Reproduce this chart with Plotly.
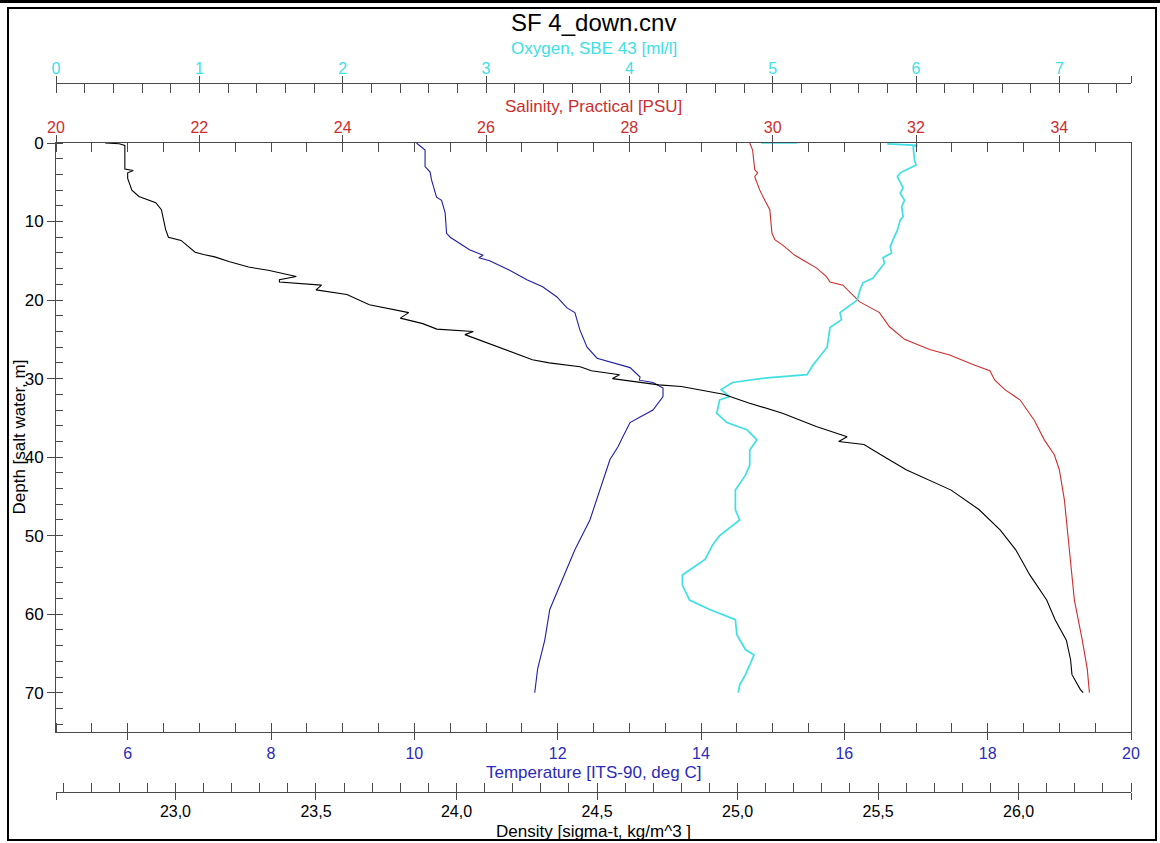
import plotly.graph_objects as go

# ---------------- data ----------------
depth_dens = [0.0, 0.1, 0.3, 3.3, 3.5, 3.8, 4.5, 6.0, 6.8, 7.3, 7.6, 8.5, 11.0, 12.0, 12.4, 13.9,
              14.2, 14.5, 15.1, 15.8, 16.2, 17.0, 17.4, 17.7, 18.1, 18.7, 19.3, 20.6, 21.6, 22.3,
              23.0, 23.7, 24.0, 24.4, 26.0, 27.6, 28.0, 28.5, 29.0, 29.5, 30.0, 30.8, 31.0, 32.0,
              33.1, 34.4, 36.1, 37.4, 38.0, 38.4, 39.7, 41.6, 44.2, 46.7, 49.3, 51.8, 55.0, 58.2,
              60.7, 63.3, 65.8, 67.7, 69.6, 70.0]
density = [22.75, 22.80, 22.82, 22.82, 22.85, 22.83, 22.83, 22.845, 22.87, 22.905, 22.93, 22.95,
           22.965, 22.975, 23.02, 23.07, 23.10, 23.14, 23.19, 23.26, 23.33, 23.43, 23.37, 23.37,
           23.52, 23.50, 23.61, 23.69, 23.83, 23.80, 23.88, 23.93, 24.06, 24.03, 24.15, 24.27,
           24.33, 24.44, 24.48, 24.58, 24.555, 24.72, 24.80, 24.95, 25.04, 25.16, 25.28, 25.39,
           25.36, 25.45, 25.51, 25.60, 25.76, 25.86, 25.935, 25.99, 26.04, 26.10, 26.13, 26.17,
           26.185, 26.19, 26.22, 26.23]

depth_temp = [0.0, 0.4, 0.9, 3.0, 3.7, 4.7, 6.9, 7.3, 8.9, 11.5, 12.0, 13.6, 14.3, 14.6, 15.0,
              16.2, 17.4, 18.3, 19.6, 21.0, 21.6, 23.8, 26.0, 27.4, 28.0, 28.6, 29.8, 30.2, 30.5,
              31.2, 32.3, 34.0, 34.9, 35.6, 37.4, 38.7, 40.3, 44.2, 48.0, 51.8, 55.6, 59.4, 63.3,
              67.0, 70.0]
temperature = [10.03, 10.08, 10.15, 10.15, 10.22, 10.24, 10.31, 10.38, 10.43, 10.45, 10.50, 10.77,
               10.96, 10.90, 11.05, 11.33, 11.57, 11.79, 11.99, 12.13, 12.24, 12.31, 12.41, 12.55,
               12.77, 13.01, 13.15, 13.14, 13.33, 13.47, 13.47, 13.33, 13.15, 13.01, 12.91, 12.84,
               12.73, 12.59, 12.45, 12.24, 12.07, 11.89, 11.82, 11.72, 11.68]

depth_sal = [0.0, 0.9, 3.4, 3.8, 4.3, 6.0, 7.3, 8.5, 11.5, 12.3, 13.0, 14.3, 14.9, 15.9, 17.0,
             17.7, 18.1, 19.3, 20.2, 20.9, 21.6, 23.4, 25.0, 26.3, 27.0, 28.3, 29.0, 30.2, 31.4,
             32.7, 35.3, 37.8, 39.7, 41.6, 45.4, 51.8, 58.2, 63.3, 67.0, 70.0]
salinity = [29.68, 29.72, 29.75, 29.79, 29.75, 29.82, 29.89, 29.96, 29.99, 30.03, 30.14, 30.31,
            30.42, 30.61, 30.75, 30.80, 30.98, 31.12, 31.21, 31.35, 31.49, 31.63, 31.84, 32.19,
            32.47, 32.82, 33.03, 33.10, 33.24, 33.45, 33.65, 33.79, 33.93, 34.00, 34.07, 34.14,
            34.21, 34.32, 34.39, 34.42]

depth_oxy = [0.0, 0.0, None, 0.1, 0.3, 0.5, 2.2, 2.8, 3.8, 4.3, 5.1, 5.7, 6.4, 7.3, 8.1, 9.4, 9.8,
             11.1, 12.3, 13.2, 14.0, 14.6, 15.3, 16.4, 17.2, 17.8, 18.7, 20.0, 20.9, 21.6, 22.5,
             23.5, 26.0, 27.2, 28.3, 29.5, 29.9, 30.5, 31.4, 32.3, 32.7, 34.4, 35.6, 36.5, 37.8,
             39.1, 41.0, 42.3, 44.2, 46.7, 48.0, 50.0, 51.2, 53.0, 55.0, 56.3, 58.2, 59.4, 60.7,
             62.6, 64.5, 65.2, 66.4, 67.7, 69.0, 70.0]
oxygen = [4.92, 5.17, None, 5.80, 6.01, 5.98, 5.99, 6.00, 5.89, 5.87, 5.89, 5.91, 5.89, 5.92, 5.90,
          5.91, 5.89, 5.87, 5.84, 5.82, 5.83, 5.77, 5.78, 5.73, 5.70, 5.63, 5.61, 5.59, 5.52, 5.47,
          5.48, 5.40, 5.38, 5.33, 5.28, 5.24, 4.96, 4.72, 4.64, 4.70, 4.63, 4.61, 4.68, 4.82, 4.89,
          4.84, 4.84, 4.81, 4.74, 4.74, 4.77, 4.63, 4.58, 4.53, 4.37, 4.37, 4.42, 4.56, 4.74, 4.75,
          4.81, 4.87, 4.84, 4.81, 4.77, 4.76]

temp_range = [5, 20]
sal_range = [20, 35]
oxy_range = [0, 7.5]
dens_range = [22.575, 26.4]
depth_range = [75, 0]

temp_ticks = [6, 8, 10, 12, 14, 16, 18, 20]
temp_labels = ["6", "8", "10", "12", "14", "16", "18", "20"]
sal_ticks = [20, 22, 24, 26, 28, 30, 32, 34]
sal_labels = ["20", "22", "24", "26", "28", "30", "32", "34"]
oxy_ticks = [0, 1, 2, 3, 4, 5, 6, 7, 7.5]
oxy_labels = ["0", "1", "2", "3", "4", "5", "6", "7", ""]
dens_ticks = [22.575, 23.0, 23.5, 24.0, 24.5, 25.0, 25.5, 26.0, 26.4]
dens_labels = ["", "23,0", "23,5", "24,0", "24,5", "25,0", "25,5", "26,0", ""]
depth_ticks = [0, 10, 20, 30, 40, 50, 60, 70]
depth_labels = ["0", "10", "20", "30", "40", "50", "60", "70"]

title_text = "SF 4_down.cnv"
oxy_title = "Oxygen, SBE 43 [ml/l]"
sal_title = "Salinity, Practical [PSU]"
temp_title = "Temperature [ITS-90, deg C]"
dens_title = "Density [sigma-t, kg/m^3 ]"
depth_title = "Depth [salt water, m]"

# ---------------- styling / geometry ----------------
C_OXY = "#3ee0e6"
C_SAL = "#cc2e2e"
C_TEMP_LINE = "#1f1fa3"
C_TEMP_TXT = "#2b2bb8"
C_AX = "#4a4a4a"
FONT = "Liberation Sans, Arial, sans-serif"

W, H = 1160, 843
ML, MR, MT, MB = 56, 29, 83, 51
PW = W - ML - MR
PH = H - MT - MB
PLOT_TOP, PLOT_BOT = 143, 732


def py(ypx):
    return (H - MB - ypx) / PH


def px(xpx):
    return (xpx - ML) / PW


ydom = [py(PLOT_BOT), py(PLOT_TOP)]

fig = go.Figure()
fig.add_trace(go.Scatter(x=density, y=depth_dens, mode="lines", xaxis="x4", yaxis="y",
                         line=dict(color="#000000", width=1.1), showlegend=False))
fig.add_trace(go.Scatter(x=temperature, y=depth_temp, mode="lines", xaxis="x", yaxis="y",
                         line=dict(color=C_TEMP_LINE, width=1.1), showlegend=False))
fig.add_trace(go.Scatter(x=salinity, y=depth_sal, mode="lines", xaxis="x2", yaxis="y",
                         line=dict(color=C_SAL, width=1.1), showlegend=False))
fig.add_trace(go.Scatter(x=oxygen, y=depth_oxy, mode="lines", xaxis="x3", yaxis="y",
                         line=dict(color=C_OXY, width=1.7), showlegend=False, connectgaps=False))
# empty traces to register the duplicate (inner major tick) axes
for xa, ya in [("x5", "y"), ("x6", "y"), ("x7", "y"), ("x8", "y"), ("x", "y2")]:
    fig.add_trace(go.Scatter(x=[], y=[], xaxis=xa, yaxis=ya, showlegend=False, hoverinfo="skip"))


def xax(rng, tv, tt, color, side, minor_dtick, minor_tick0, anchor="y", position=None,
        overlay=None, fsize=16, standoff=0):
    d = dict(range=rng, tickmode="array", tickvals=tv, ticktext=tt, side=side,
             ticks="outside", ticklen=7, tickwidth=1, tickcolor=C_AX,
             showline=True, linecolor=C_AX, linewidth=1, showgrid=False, zeroline=False,
             tickfont=dict(family=FONT, size=fsize, color=color), ticklabelstandoff=standoff,
             minor=dict(dtick=minor_dtick, tick0=minor_tick0, ticks="inside", ticklen=9,
                        tickwidth=1, tickcolor=C_AX, showgrid=False),
             anchor=anchor, fixedrange=True)
    if position is not None:
        d["position"] = position
    if overlay:
        d["overlaying"] = overlay
    return d


def xdup(rng, tv, side, anchor="y", position=None):
    d = dict(range=rng, tickmode="array", tickvals=tv, side=side, ticks="inside", ticklen=9,
             tickwidth=1, tickcolor=C_AX, showticklabels=False, showline=False,
             showgrid=False, zeroline=False, anchor=anchor, overlaying="x", fixedrange=True)
    if position is not None:
        d["position"] = position
    return d


fig.update_layout(
    width=W, height=H,
    margin=dict(l=ML, r=MR, t=MT, b=MB, pad=0),
    paper_bgcolor="white", plot_bgcolor="white",
    font=dict(family=FONT, color="#000000"),
    showlegend=False,
    xaxis=xax(temp_range, temp_ticks, temp_labels, C_TEMP_TXT, "bottom", 0.5, 5),
    xaxis2=xax(sal_range, sal_ticks, sal_labels, C_SAL, "top", 0.5, 20, overlay="x",
               standoff=-4),
    xaxis3=xax(oxy_range, oxy_ticks, oxy_labels, C_OXY, "top", 0.2, 0, anchor="free",
               position=1, overlay="x", standoff=-4),
    xaxis4=xax(dens_range, dens_ticks, dens_labels, "#000000", "bottom", 0.1, 23.0,
               anchor="free", position=0, overlay="x", standoff=-2),
    xaxis5=xdup(temp_range, temp_ticks, "bottom"),
    xaxis6=xdup(sal_range, sal_ticks, "top"),
    xaxis7=xdup(oxy_range, oxy_ticks, "top", anchor="free", position=1),
    xaxis8=xdup(dens_range, dens_ticks, "bottom", anchor="free", position=0),
    yaxis=dict(range=depth_range, domain=ydom, tickmode="array", tickvals=depth_ticks,
               ticktext=depth_labels, ticks="outside", ticklen=8, tickwidth=1, tickcolor=C_AX,
               showline=True, linecolor=C_AX, linewidth=1, mirror=True, showgrid=False,
               zeroline=False, tickfont=dict(family=FONT, size=17, color="#000000"),
               minor=dict(dtick=2, tick0=0, ticks="inside", ticklen=7, tickwidth=1,
                          tickcolor=C_AX, showgrid=False),
               anchor="x", fixedrange=True),
    yaxis2=dict(range=depth_range, domain=ydom, tickmode="array", tickvals=depth_ticks,
                ticks="inside", ticklen=7, tickwidth=1, tickcolor=C_AX, showticklabels=False,
                showline=False, showgrid=False, zeroline=False, overlaying="y", anchor="x",
                side="left", fixedrange=True),
)

annos = [
    dict(text=title_text, x=0.5, y=py(23), font=dict(size=24, color="#000000")),
    dict(text=oxy_title, x=0.5, y=py(48), font=dict(size=17, color=C_OXY)),
    dict(text=sal_title, x=0.5, y=py(107), font=dict(size=17, color=C_SAL)),
    dict(text=temp_title, x=0.5, y=py(772), font=dict(size=17, color=C_TEMP_TXT)),
    dict(text=dens_title, x=0.5, y=py(832), font=dict(size=17, color="#000000")),
    dict(text=depth_title, x=px(19), y=(ydom[0] + ydom[1]) / 2, textangle=-90,
         font=dict(size=17, color="#000000")),
]
for a in annos:
    a.update(xref="paper", yref="paper", showarrow=False, xanchor="center", yanchor="middle")
    a["font"]["family"] = FONT
fig.update_layout(annotations=annos)

# outer frame of the picture
fig.add_shape(type="rect", xref="paper", yref="paper", x0=px(8), x1=px(1156), y0=py(840),
              y1=py(8), line=dict(color="#000000", width=2), fillcolor="rgba(0,0,0,0)")
fig.add_shape(type="line", xref="paper", yref="paper", x0=px(0), x1=px(1160), y0=py(1.5),
              y1=py(1.5), line=dict(color="#000000", width=3))

fig.write_html("out.html", config={"displayModeBar": False},
               post_script="document.body.style.margin='0px';document.body.style.overflow='hidden';")
